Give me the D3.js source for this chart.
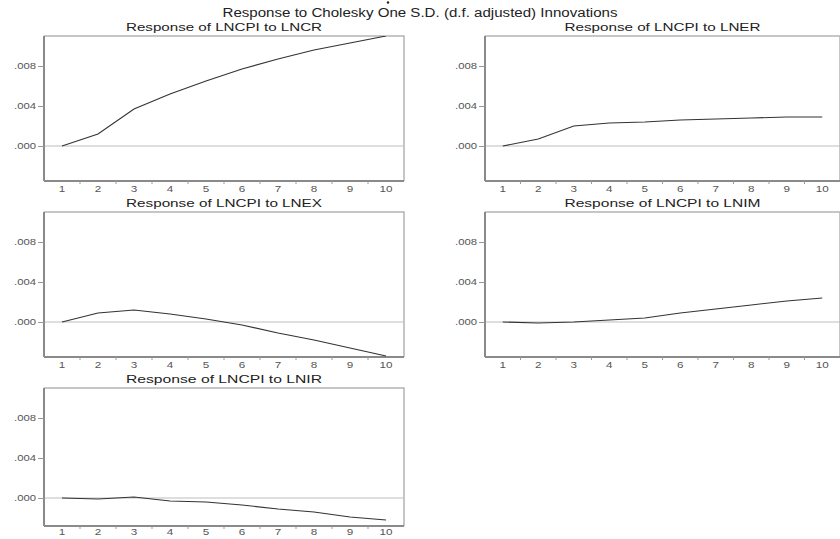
<!DOCTYPE html>
<html><head><meta charset="utf-8">
<script src="https://cdn.jsdelivr.net/npm/d3@7"></script>
<style>body{margin:0;background:#fff;}svg{display:block;}</style>
</head><body>
<svg id="c" width="840" height="539"></svg>
<script>
const mainTitle = "Response to Cholesky One S.D. (d.f. adjusted) Innovations";
const periods = [1,2,3,4,5,6,7,8,9,10];
const yTicks = [0, 0.004, 0.008];
const shockNames = ["LNCR","LNER","LNEX","LNIM","LNIR"];
const respLNCR = [0, 0.0012, 0.0037, 0.0052, 0.0065, 0.0077, 0.0087, 0.0096, 0.0103, 0.0110];
const respLNER = [0, 0.0007, 0.0020, 0.0023, 0.0024, 0.0026, 0.0027, 0.0028, 0.0029, 0.0029];
const respLNEX = [0, 0.0009, 0.0012, 0.0008, 0.0003, -0.0003, -0.0011, -0.0018, -0.0026, -0.0034];
const respLNIM = [0, -0.0001, 0.0000, 0.0002, 0.0004, 0.0009, 0.0013, 0.0017, 0.0021, 0.0024];
const respLNIR = [0, -0.0001, 0.0001, -0.0003, -0.0004, -0.0007, -0.0011, -0.0014, -0.0019, -0.0022];
const seriesList = [respLNCR, respLNER, respLNEX, respLNIM, respLNIR];

const svg = d3.select("#c");
const colX = [[44,404],[485,840]];
const rowTop = [36, 212, 388];
const yMax = 0.011;
const yMinByRow = [-0.0035, -0.0035, -0.0028];
const padByRow = [5, 5, 3];
const pxPerUnit = 145/0.0145;

svg.append("text").attr("x",420).attr("y",17).attr("text-anchor","middle")
  .attr("font-family","Liberation Sans, Arial, sans-serif").attr("font-size",12).attr("fill","#222")
  .attr("textLength",395).attr("lengthAdjust","spacingAndGlyphs").text(mainTitle);
svg.append("circle").attr("cx",388).attr("cy",2.5).attr("r",1.2).attr("fill","#222");

const fmt = d => d3.format(".3f")(d).replace(/^0/,"").replace(/^-0/,"-");

shockNames.forEach((name,i)=>{
  const col = i%2, row = Math.floor(i/2);
  const [x0,x1] = colX[col];
  const top = rowTop[row];
  const yMin = yMinByRow[row];
  const H = (yMax - yMin)*pxPerUnit;
  const bot = top+H;
  const x = d3.scaleBand().domain(periods).range([x0,x1]);
  const y = d3.scaleLinear().domain([yMin, yMax]).range([bot, top]);
  const g = svg.append("g");
  const cid = "clip"+i;
  svg.append("clipPath").attr("id",cid).append("rect").attr("x",x0).attr("y",top).attr("width",x1-x0).attr("height",H);

  g.append("path").attr("d",`M${x0},${top}H${x1}V${bot}`).attr("fill","none").attr("stroke","#b4b4b4").attr("stroke-width",1.5);
  g.append("line").attr("x1",x0).attr("x2",x1).attr("y1",y(0)).attr("y2",y(0)).attr("stroke","#bdbdbd").attr("stroke-width",1);

  const ya = g.append("g").attr("transform",`translate(${x0},0)`)
    .call(d3.axisLeft(y).tickValues(yTicks).tickSize(6).tickPadding(2).tickFormat(fmt));
  ya.select(".domain").attr("stroke","#8a8a8a").attr("stroke-width",2).attr("d",`M0,${top}V${bot}`);
  ya.selectAll(".tick line").attr("stroke","#999");
  ya.selectAll(".tick text").attr("font-family","Liberation Sans, Arial, sans-serif").attr("font-size",8.5).attr("fill","#555")
    .attr("textLength",22).attr("lengthAdjust","spacingAndGlyphs");

  const xa = g.append("g").attr("transform",`translate(0,${bot})`)
    .call(d3.axisBottom(x).tickSize(0).tickPadding(padByRow[row]));
  xa.select(".domain").attr("stroke","#8a8a8a").attr("stroke-width",2).attr("d",`M${x0},0H${x1}`);
  xa.selectAll(".tick text").attr("font-family","Liberation Sans, Arial, sans-serif").attr("font-size",8.5).attr("fill","#555")
    .attr("textLength",d=>String(d).length*6.5).attr("lengthAdjust","spacingAndGlyphs");
  xa.selectAll(".bnd").data(periods.slice(1)).enter().append("line").attr("class","bnd")
    .attr("x1",d=>x(d)).attr("x2",d=>x(d)).attr("y1",0).attr("y2",3).attr("stroke","#999");

  g.append("text").attr("x",(x0+x1)/2).attr("y",top-5).attr("text-anchor","middle")
    .attr("font-family","Liberation Sans, Arial, sans-serif").attr("font-size",11).attr("fill","#222")
    .attr("textLength",196).attr("lengthAdjust","spacingAndGlyphs")
    .text(`Response of LNCPI to ${name}`);

  const line = d3.line().x((d,k)=>x(periods[k])+x.bandwidth()/2).y(d=>y(d));
  g.append("path").datum(seriesList[i]).attr("d",line).attr("fill","none")
    .attr("stroke","#333").attr("stroke-width",1.1).attr("clip-path",`url(#${cid})`);
});
</script>
</body></html>
